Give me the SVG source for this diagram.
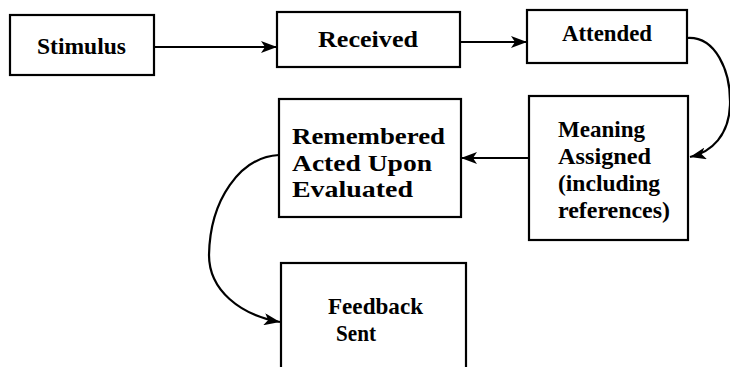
<svg xmlns="http://www.w3.org/2000/svg" width="730" height="367" viewBox="0 0 730 367">
<style>
.box{fill:#fff;stroke:#000;stroke-width:2.2}
.t{font-family:"Liberation Serif","Times New Roman",serif;font-weight:bold;font-size:24px;fill:#000}
.c{fill:none;stroke:#000;stroke-width:2.2}
</style>
<defs>
<marker id="ah" viewBox="0 0 16 12" refX="16" refY="6" markerWidth="16" markerHeight="12" markerUnits="userSpaceOnUse" orient="auto">
<path d="M0,0 L16,6 L0,12 L4,6 Z" fill="#000"/>
</marker>
</defs>
<rect width="730" height="367" fill="#fff"/>
<g id="connectors">
<line class="c" x1="154" y1="47" x2="277" y2="47" marker-end="url(#ah)"/>
<line class="c" x1="460" y1="42" x2="527" y2="42" marker-end="url(#ah)"/>
<path class="c" d="M687,38 C715,36 731,70 730,105 C729,135 712,152 690,157" marker-end="url(#ah)"/>
<line class="c" x1="529" y1="158" x2="461" y2="158" marker-end="url(#ah)"/>
<path class="c" d="M279,155 C240,157 210,200 209,255 C209,290 240,315 280,322" marker-end="url(#ah)"/>
</g>
<g id="stimulus">
<rect class="box" x="10" y="15" width="144" height="60"/>
<text class="t" x="37" y="54" textLength="89" lengthAdjust="spacingAndGlyphs">Stimulus</text>
</g>
<g id="received">
<rect class="box" x="277" y="12" width="183" height="55"/>
<text class="t" x="318" y="47" textLength="100" lengthAdjust="spacingAndGlyphs">Received</text>
</g>
<g id="attended">
<rect class="box" x="527" y="10" width="160" height="53"/>
<text class="t" x="562" y="41" textLength="90" lengthAdjust="spacingAndGlyphs">Attended</text>
</g>
<g id="meaning">
<rect class="box" x="529" y="96" width="159" height="144"/>
<text class="t" x="558" y="137" textLength="87" lengthAdjust="spacingAndGlyphs">Meaning</text>
<text class="t" x="558" y="164" textLength="93" lengthAdjust="spacingAndGlyphs">Assigned</text>
<text class="t" x="558" y="191" textLength="102" lengthAdjust="spacingAndGlyphs">(including</text>
<text class="t" x="558" y="218" textLength="112" lengthAdjust="spacingAndGlyphs">references)</text>
</g>
<g id="remembered">
<rect class="box" x="279" y="99" width="182" height="118"/>
<text class="t" x="292" y="144" textLength="153" lengthAdjust="spacingAndGlyphs">Remembered</text>
<text class="t" x="292" y="171" textLength="140" lengthAdjust="spacingAndGlyphs">Acted Upon</text>
<text class="t" x="292" y="197" textLength="121" lengthAdjust="spacingAndGlyphs">Evaluated</text>
</g>
<g id="feedback">
<rect class="box" x="281" y="263" width="185" height="120"/>
<text class="t" x="328" y="314" textLength="95" lengthAdjust="spacingAndGlyphs">Feedback</text>
<text class="t" x="336" y="341" textLength="40" lengthAdjust="spacingAndGlyphs">Sent</text>
</g>
</svg>
